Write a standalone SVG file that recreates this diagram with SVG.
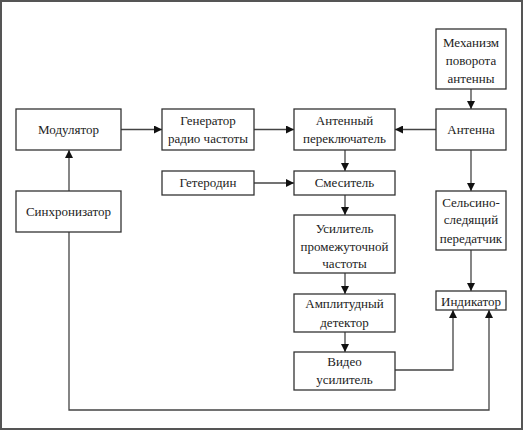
<svg xmlns="http://www.w3.org/2000/svg" width="523" height="430" viewBox="0 0 523 430">
<style>
.box{fill:#fff;stroke:#333;stroke-width:1.3}
.ln{fill:none;stroke:#444;stroke-width:1.3}
text{font-family:"Liberation Serif","DejaVu Serif",serif;font-size:13px;fill:#222;text-anchor:middle;dominant-baseline:central}
</style>
<defs>
<marker id="ah" viewBox="0 0 10 10" refX="10" refY="5" markerWidth="8" markerHeight="8" markerUnits="userSpaceOnUse" orient="auto">
<path d="M0,0 L10,5 L0,10 Z" fill="#111"/>
</marker>
</defs>
<rect x="1" y="1" width="521" height="428" fill="#fff" stroke="#555" stroke-width="2"/>
<g id="connectors">
<line class="ln" x1="121" y1="129.5" x2="162" y2="129.5" marker-end="url(#ah)"/>
<line class="ln" x1="254" y1="129.5" x2="294" y2="129.5" marker-end="url(#ah)"/>
<line class="ln" x1="436" y1="129.5" x2="395" y2="129.5" marker-end="url(#ah)"/>
<line class="ln" x1="471" y1="89" x2="471" y2="109" marker-end="url(#ah)"/>
<line class="ln" x1="345" y1="150" x2="345" y2="171" marker-end="url(#ah)"/>
<line class="ln" x1="254" y1="183" x2="294" y2="183" marker-end="url(#ah)"/>
<line class="ln" x1="345" y1="195" x2="345" y2="215" marker-end="url(#ah)"/>
<line class="ln" x1="345" y1="273" x2="345" y2="294" marker-end="url(#ah)"/>
<line class="ln" x1="345" y1="332" x2="345" y2="352" marker-end="url(#ah)"/>
<line class="ln" x1="471" y1="150" x2="471" y2="191" marker-end="url(#ah)"/>
<line class="ln" x1="471" y1="250" x2="471" y2="291" marker-end="url(#ah)"/>
<polyline class="ln" points="395,370 453,370 453,310" marker-end="url(#ah)"/>
<line class="ln" x1="69" y1="191" x2="69" y2="150" marker-end="url(#ah)"/>
<polyline class="ln" points="69,232 69,410 489,410 489,310" marker-end="url(#ah)"/>
</g>
<g id="modulator"><rect class="box" x="16" y="109" width="105" height="41"/><text x="68.5" y="129.5">Модулятор</text></g>
<g id="generator"><rect class="box" x="162" y="109" width="92" height="41"/><text x="208" y="120">Генератор</text><text x="208" y="138.5">радио частоты</text></g>
<g id="switch"><rect class="box" x="294" y="109" width="101" height="41"/><text x="344.5" y="120">Антенный</text><text x="344.5" y="138.5">переключатель</text></g>
<g id="antenna"><rect class="box" x="436" y="109" width="70" height="41"/><text x="471" y="129.5">Антенна</text></g>
<g id="mechanism"><rect class="box" x="436" y="29" width="70" height="60"/><text x="471" y="42">Механизм</text><text x="471" y="60.5">поворота</text><text x="471" y="78.5">антенны</text></g>
<g id="heterodyne"><rect class="box" x="162" y="171" width="92" height="24"/><text x="208" y="182.5">Гетеродин</text></g>
<g id="mixer"><rect class="box" x="294" y="171" width="101" height="24"/><text x="344.5" y="182.5">Смеситель</text></g>
<g id="synchronizer"><rect class="box" x="16" y="191" width="105" height="41"/><text x="68.5" y="211.5">Синхронизатор</text></g>
<g id="selsyn"><rect class="box" x="436" y="191" width="70" height="59"/><text x="471" y="202">Сельсино-</text><text x="471" y="219.5">следящий</text><text x="471" y="238">передатчик</text></g>
<g id="if-amplifier"><rect class="box" x="294" y="215" width="101" height="58"/><text x="344.5" y="228">Усилитель</text><text x="344.5" y="246">промежуточной</text><text x="344.5" y="263">частоты</text></g>
<g id="detector"><rect class="box" x="294" y="294" width="101" height="38"/><text x="344.5" y="303.5">Амплитудный</text><text x="344.5" y="322">детектор</text></g>
<g id="video"><rect class="box" x="294" y="352" width="101" height="38"/><text x="344.5" y="361.5">Видео</text><text x="344.5" y="379.5">усилитель</text></g>
<g id="indicator"><rect class="box" x="436" y="291" width="70" height="19"/><text x="471" y="301">Индикатор</text></g>
</svg>
